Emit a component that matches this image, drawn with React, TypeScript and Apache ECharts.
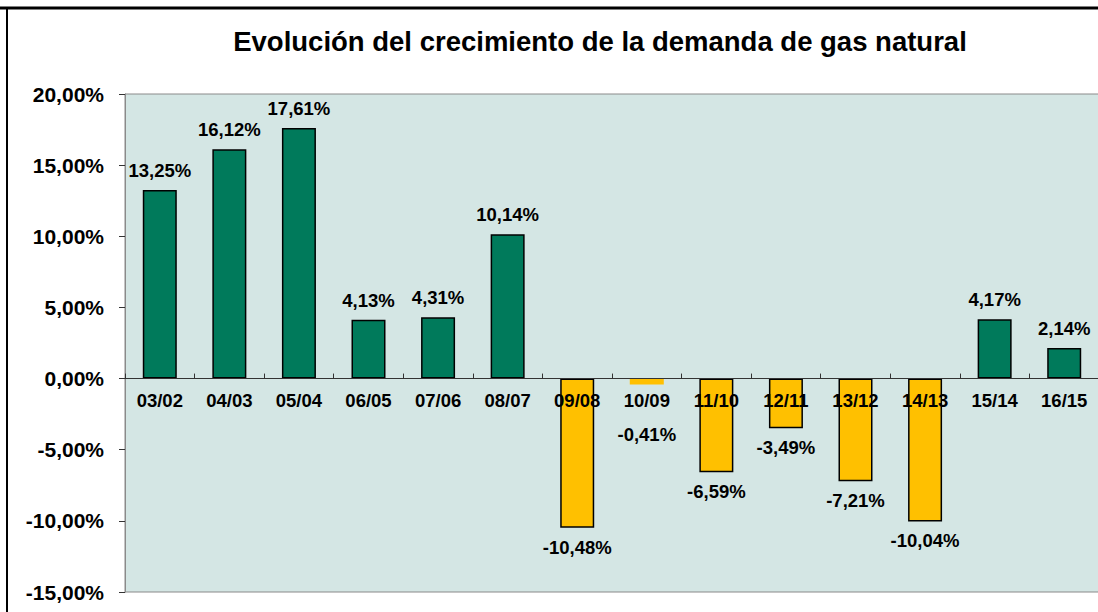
import React, { useEffect, useRef } from "react";
import * as echarts from "echarts";

const categories = ["03/02", "04/03", "05/04", "06/05", "07/06", "08/07", "09/08", "10/09", "11/10", "12/11", "13/12", "14/13", "15/14", "16/15"];
const values = [13.25, 16.12, 17.61, 4.13, 4.31, 10.14, -10.48, -0.41, -6.59, -3.49, -7.21, -10.04, 4.17, 2.14];
const yTicks = { min: -15, max: 20, interval: 5 };
const titleText = "Evolución del crecimiento de la demanda de gas natural";

const GREEN = "#007A5B";
const YELLOW = "#FFC000";
const FONT = "Liberation Sans, Arial, sans-serif";

const GRID_TOP = 94;
const GRID_BOTTOM = 20;
const HEIGHT = 612;

const fmt = (v: number) => v.toFixed(2).replace(".", ",") + "%";

export default function App() {
  const ref = useRef<HTMLDivElement>(null);
  useEffect(() => {
    document.body.style.margin = "0";
    const chart = echarts.init(ref.current!, undefined, { renderer: "svg" });
    const plotH = HEIGHT - GRID_TOP - GRID_BOTTOM;
    const zeroFromBottom = (plotH * (0 - yTicks.min)) / (yTicks.max - yTicks.min);
    chart.setOption({
      animation: false,
      backgroundColor: "#ffffff",
      title: {
        text: titleText,
        left: 595,
        textAlign: "center",
        top: 22,
        textStyle: { fontFamily: FONT, fontSize: 27.5, fontWeight: "bold", color: "#000" },
      },
      grid: {
        left: 125,
        top: GRID_TOP,
        right: -1,
        bottom: GRID_BOTTOM,
        show: true,
        backgroundColor: "#D4E6E4",
        borderColor: "#8a8a8a",
        borderWidth: 1,
        containLabel: false,
        outerBoundsMode: "none",
      },
      xAxis: {
        type: "category",
        data: categories,
        position: "bottom",
        offset: -zeroFromBottom,
        axisLine: { onZero: false, lineStyle: { color: "#333", width: 1 } },
        axisTick: { show: true, inside: true, length: 5, alignWithLabel: false, lineStyle: { color: "#333" } },
        axisLabel: { margin: 12, fontFamily: FONT, fontSize: 18.5, fontWeight: "bold", color: "#000" },
        splitLine: { show: false },
        z: 10,
      },
      yAxis: {
        type: "value",
        min: yTicks.min,
        max: yTicks.max,
        interval: yTicks.interval,
        axisLine: { show: true, lineStyle: { color: "#8a8a8a" } },
        axisTick: { show: true, length: 6, lineStyle: { color: "#333" } },
        axisLabel: {
          margin: 21,
          fontFamily: FONT,
          fontSize: 21,
          fontWeight: "bold",
          color: "#000",
          formatter: (v: number) => fmt(v),
        },
        splitLine: { show: false },
      },
      series: [
        {
          type: "bar",
          barWidth: 34,
          data: values.map((v, i) => ({
            value: v,
            itemStyle: {
              color: v >= 0 ? GREEN : YELLOW,
              borderColor: i === 7 ? YELLOW : "#000",
              borderWidth: i === 7 ? 0 : 1.5,
            },
            label: {
              show: true,
              position: v >= 0 ? "top" : "bottom",
              distance: i === 7 ? 41 : 10,
            },
          })),
          label: {
            show: true,
            fontFamily: FONT,
            fontSize: 18.5,
            fontWeight: "bold",
            color: "#000",
            formatter: (p: any) => fmt(p.value),
          },
          z: 2,
        },
      ],
      graphic: [
        { type: "line", shape: { x1: 0, y1: 8, x2: 1098, y2: 8 }, style: { stroke: "#000", lineWidth: 3 } },
        { type: "line", shape: { x1: 7, y1: 8, x2: 7, y2: 612 }, style: { stroke: "#000", lineWidth: 2 } },
      ],
    });
    return () => chart.dispose();
  }, []);
  return <div ref={ref} style={{ width: 1098, height: 612 }} />;
}
